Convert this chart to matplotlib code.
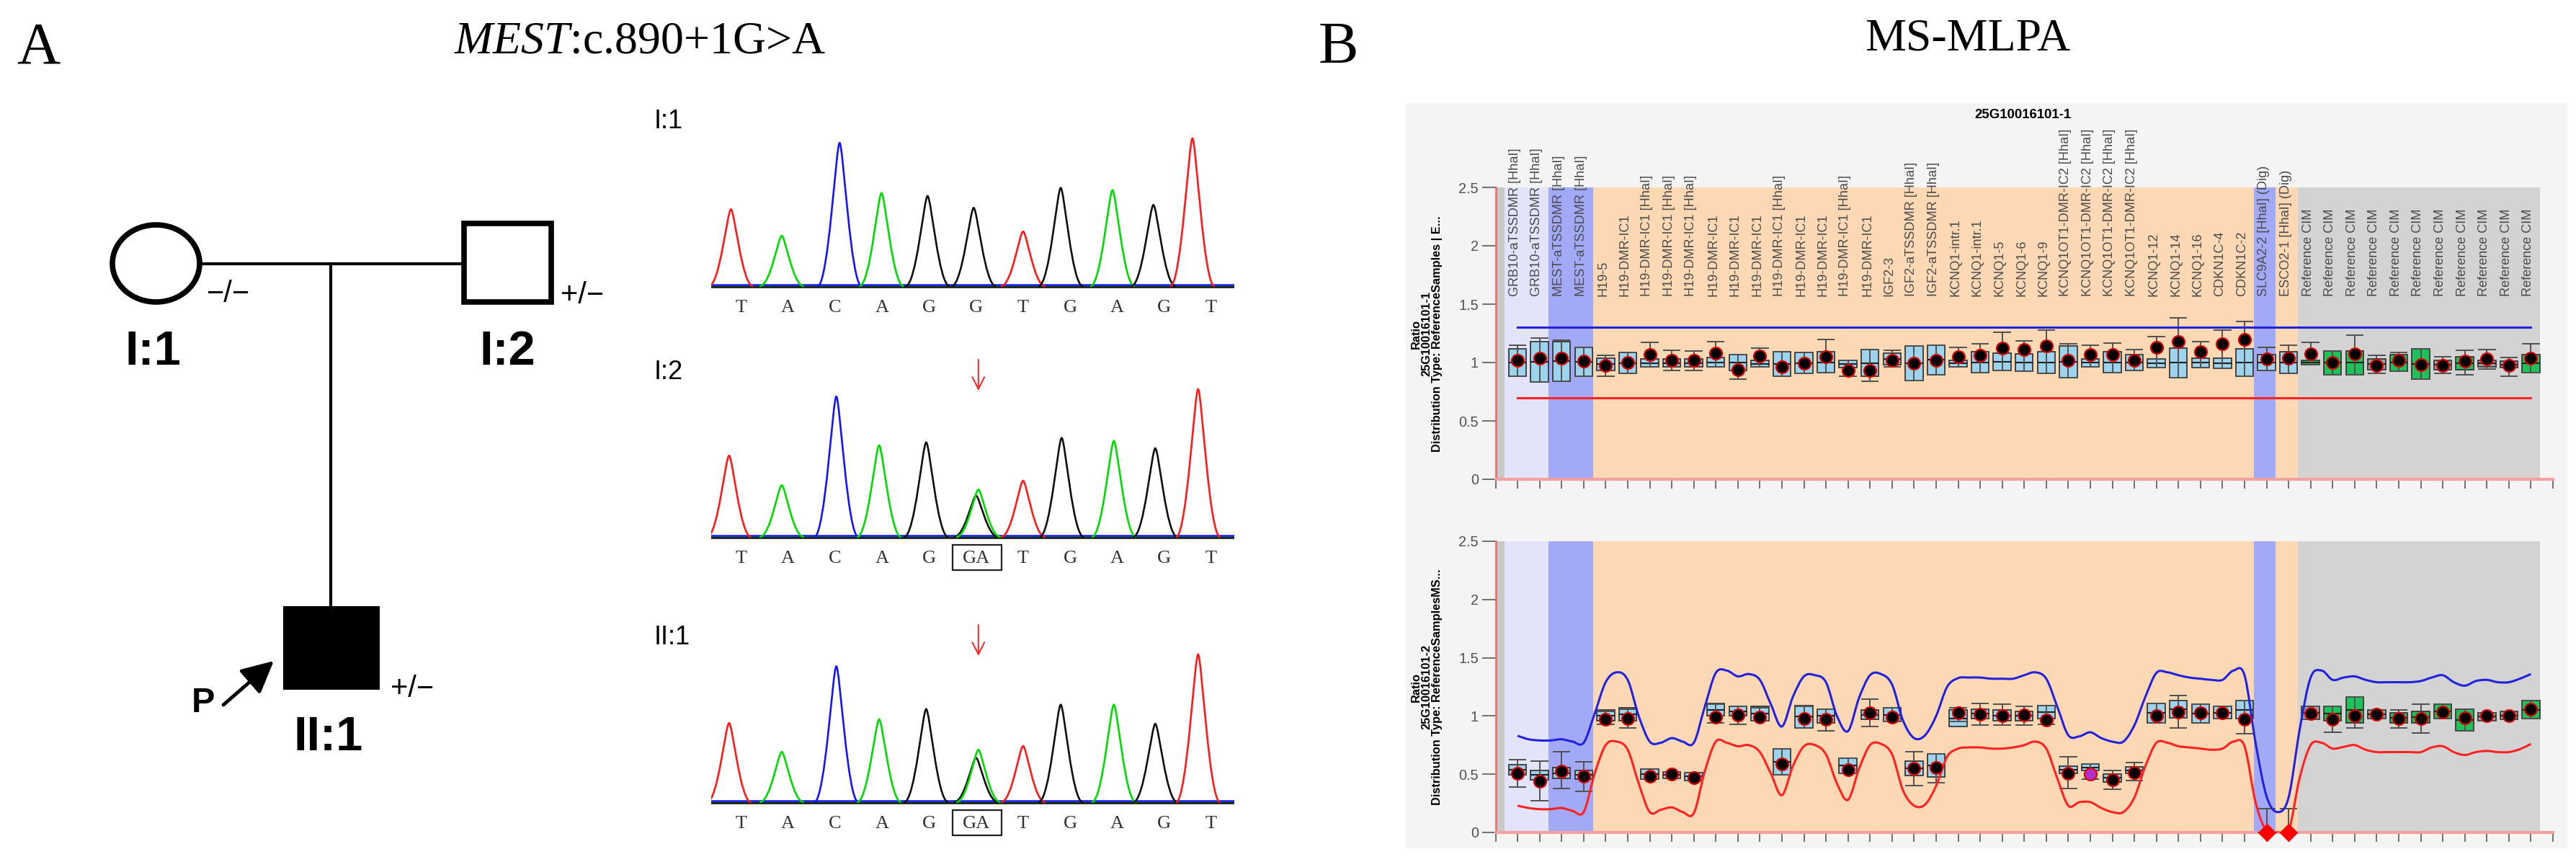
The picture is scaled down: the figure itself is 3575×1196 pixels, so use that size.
import numpy as np
import matplotlib
matplotlib.use('Agg')
import matplotlib.pyplot as plt
from matplotlib.patches import Ellipse, Rectangle, PathPatch
from matplotlib.path import Path
from matplotlib import font_manager

W, H = 3575, 1196

# ---------------- data: Sanger traces ----------------
chrom_labels = ['I:1', 'I:2', 'II:1']
base_calls = [
    ['T', 'A', 'C', 'A', 'G', 'G', 'T', 'G', 'A', 'G', 'T'],
    ['T', 'A', 'C', 'A', 'G', 'GA', 'T', 'G', 'A', 'G', 'T'],
    ['T', 'A', 'C', 'A', 'G', 'GA', 'T', 'G', 'A', 'G', 'T'],
]
peak_bases = [
    ['T', 'A', 'C', 'A', 'G', 'G', 'T', 'G', 'A', 'G', 'T'],
    ['T', 'A', 'C', 'A', 'G', 'G', 'A', 'T', 'G', 'A', 'G', 'T'],
    ['T', 'A', 'C', 'A', 'G', 'G', 'A', 'T', 'G', 'A', 'G', 'T'],
]
peak_pos = [
    [-0.21, 0.87, 2.10, 2.99, 3.97, 4.95, 6.0, 6.8, 7.9, 8.77, 9.6],
    [-0.25, 0.87, 2.03, 2.94, 3.94, 5.0, 5.05, 6.0, 6.82, 7.93, 8.81, 9.72],
    [-0.25, 0.87, 2.03, 2.94, 3.94, 5.0, 5.05, 6.0, 6.8, 7.93, 8.81, 9.72],
]
peak_height = [
    [0.52, 0.34, 0.97, 0.63, 0.61, 0.53, 0.37, 0.665, 0.65, 0.55, 1.0],
    [0.55, 0.35, 0.95, 0.62, 0.64, 0.28, 0.32, 0.38, 0.67, 0.65, 0.60, 1.0],
    [0.535, 0.34, 0.92, 0.56, 0.63, 0.30, 0.355, 0.38, 0.66, 0.66, 0.53, 1.0],
]
variant_index = 5

# ---------------- data: MS-MLPA ----------------
probe_labels = (
    ['GRB10-aTSSDMR [HhaI]'] * 2 + ['MEST-aTSSDMR [HhaI]'] * 2 + ['H19-5'] +
    ['H19-DMR-IC1', 'H19-DMR-IC1 [HhaI]', 'H19-DMR-IC1 [HhaI]', 'H19-DMR-IC1 [HhaI]',
     'H19-DMR-IC1', 'H19-DMR-IC1', 'H19-DMR-IC1', 'H19-DMR-IC1 [HhaI]',
     'H19-DMR-IC1', 'H19-DMR-IC1', 'H19-DMR-IC1 [HhaI]', 'H19-DMR-IC1'] +
    ['IGF2-3', 'IGF2-aTSSDMR [HhaI]', 'IGF2-aTSSDMR [HhaI]',
     'KCNQ1-intr.1', 'KCNQ1-intr.1', 'KCNQ1-5', 'KCNQ1-6', 'KCNQ1-9'] +
    ['KCNQ1OT1-DMR-IC2 [HhaI]'] * 4 +
    ['KCNQ1-12', 'KCNQ1-14', 'KCNQ1-16', 'CDKN1C-4', 'CDKN1C-2',
     'SLC9A2-2 [HhaI] (Dig)', 'ESCO2-1 [HhaI] (Dig)'] +
    ['Reference CIM'] * 11
)

# sample 1 (undigested)
top_ratio = [1.02, 1.035, 1.035, 1.01, 0.975, 1.00, 1.07, 1.02, 1.02, 1.08, 0.94, 1.055,
             0.965, 0.995, 1.05, 0.935, 0.935, 1.02, 0.995, 1.02, 1.05, 1.06, 1.125, 1.11,
             1.14, 1.02, 1.07, 1.07, 1.02, 1.13, 1.18, 1.095, 1.16, 1.20, 1.03, 1.04,
             1.075, 1.00, 1.075, 0.975, 1.02, 0.98, 0.975, 1.01, 1.03, 0.975, 1.04]
top_box_hi = [1.12, 1.18, 1.18, 1.13, 1.035, 1.085, 1.03, 1.03, 1.03, 1.045, 1.07, 1.02,
              1.095, 1.085, 1.09, 1.02, 1.11, 1.08, 1.14, 1.15, 1.02, 1.09, 1.08, 1.075,
              1.09, 1.14, 1.03, 1.09, 1.07, 1.03, 1.125, 1.04, 1.04, 1.12, 1.07, 1.09,
              1.02, 1.10, 1.10, 1.03, 1.07, 1.12, 1.02, 1.05, 1.02, 1.01, 1.07]
top_box_lo = [0.885, 0.835, 0.84, 0.885, 0.935, 0.905, 0.96, 0.96, 0.96, 0.96, 0.935, 0.96,
              0.88, 0.905, 0.915, 0.955, 0.88, 0.98, 0.845, 0.895, 0.965, 0.915, 0.935, 0.925,
              0.905, 0.87, 0.965, 0.915, 0.935, 0.955, 0.87, 0.955, 0.95, 0.885, 0.935, 0.905,
              0.98, 0.895, 0.895, 0.94, 0.925, 0.86, 0.94, 0.94, 0.965, 0.955, 0.915]
top_wsk_hi = [1.15, 1.21, 1.19, 1.13, 1.06, 1.085, 1.17, 1.105, 1.10, 1.18, 1.07, 1.125,
              1.095, 1.085, 1.20, 1.02, 1.11, 1.105, 1.14, 1.15, 1.13, 1.16, 1.26, 1.185,
              1.275, 1.16, 1.15, 1.165, 1.11, 1.225, 1.38, 1.18, 1.275, 1.35, 1.13, 1.15,
              1.17, 1.10, 1.235, 1.06, 1.085, 1.12, 1.05, 1.105, 1.11, 1.045, 1.16]
top_wsk_lo = [0.885, 0.835, 0.84, 0.885, 0.885, 0.905, 0.96, 0.935, 0.935, 0.96, 0.86, 0.96,
              0.88, 0.905, 0.915, 0.885, 0.84, 0.96, 0.845, 0.895, 0.965, 0.915, 0.935, 0.925,
              0.905, 0.87, 0.965, 0.915, 0.935, 0.955, 0.87, 0.955, 0.95, 0.885, 0.935, 0.905,
              0.98, 0.895, 0.895, 0.905, 0.925, 0.86, 0.905, 0.895, 0.945, 0.885, 0.915]
top_kinds = ['b'] * 36 + ['g', 'g', 'g', 'k', 'g', 'g', 'k', 'g', 'k', 'k', 'g']
top_upper = 1.3
top_lower = 0.7

# sample 2 (HhaI digested)
bot_ratio = [0.505, 0.44, 0.525, 0.48, 0.97, 0.98, 0.485, 0.50, 0.47, 0.99, 1.01, 0.99,
             0.59, 0.98, 0.97, 0.54, 1.025, 0.99, 0.55, 0.56, 1.025, 1.015, 1.005, 1.01,
             0.965, 0.51, 0.50, 0.45, 0.515, 1.005, 1.035, 1.025, 1.03, 0.97, 0.0, 0.0,
             1.02, 0.97, 1.005, 1.015, 0.975, 0.98, 1.035, 0.985, 1.00, 1.005, 1.06]
bot_box_hi = [0.58, 0.535, 0.555, 0.53, 1.05, 1.07, 0.545, 0.52, 0.515, 1.11, 1.08, 1.08,
              0.72, 1.09, 1.06, 0.64, 1.05, 1.07, 0.61, 0.675, 1.05, 1.06, 1.05, 1.04,
              1.09, 0.57, 0.585, 0.50, 0.565, 1.11, 1.13, 1.10, 1.08, 1.13, 0.0, 0.0,
              1.08, 1.08, 1.165, 1.05, 1.025, 1.04, 1.10, 1.06, 1.03, 1.04, 1.13]
bot_box_lo = [0.495, 0.45, 0.465, 0.455, 0.96, 0.96, 0.455, 0.465, 0.445, 1.0, 1.0, 0.96,
              0.495, 0.90, 0.94, 0.505, 0.97, 0.95, 0.49, 0.475, 0.91, 0.98, 0.96, 0.96,
              0.98, 0.505, 0.53, 0.435, 0.505, 0.94, 0.985, 0.94, 0.98, 0.98, 0.0, 0.0,
              0.97, 0.96, 0.94, 0.98, 0.94, 0.94, 0.98, 0.875, 0.96, 0.97, 0.975]
bot_wsk_hi = [0.625, 0.61, 0.69, 0.605, 1.04, 1.06, 0.545, 0.52, 0.515, 1.10, 1.085, 1.07,
              0.715, 1.085, 1.06, 0.64, 1.145, 1.07, 0.695, 0.675, 1.07, 1.11, 1.10, 1.085,
              1.09, 0.65, 0.585, 0.535, 0.60, 1.11, 1.175, 1.10, 1.08, 1.13, 0.205, 0.205,
              1.08, 1.08, 1.165, 1.05, 1.05, 1.10, 1.10, 1.06, 1.03, 1.04, 1.13]
bot_wsk_lo = [0.39, 0.27, 0.38, 0.355, 0.93, 0.90, 0.455, 0.465, 0.445, 0.94, 0.93, 0.96,
              0.495, 0.90, 0.875, 0.505, 0.91, 0.95, 0.40, 0.43, 0.95, 0.92, 0.92, 0.92,
              0.93, 0.38, 0.46, 0.37, 0.445, 0.94, 0.90, 0.94, 0.98, 0.845, 0.0, 0.0,
              0.97, 0.86, 0.90, 0.98, 0.90, 0.855, 0.98, 0.875, 0.96, 0.97, 0.975]
bot_kinds = ['b'] * 36 + ['k', 'g', 'g', 'k', 'g', 'g', 'g', 'g', 'k', 'k', 'g']
bot_flagged = [27]          # magenta marker
bot_failed = [35, 36]       # red diamonds on the axis

# bottom panel arbitration limits, read at every half probe from 1 to 47
limit_grid = np.arange(1, 47.5, 0.5)
bot_upper = [0.83, 0.80, 0.79, 0.79, 0.80, 0.78, 0.77, 1.02, 1.29, 1.375, 1.31, 1.00,
             0.78, 0.77, 0.81, 0.78, 0.77, 1.08, 1.37, 1.39, 1.34, 1.36, 1.31, 1.10,
             0.91, 1.165, 1.34, 1.35, 1.29, 1.00, 0.87, 1.155, 1.35, 1.36, 1.27, 0.96,
             0.81, 0.835, 1.00, 1.25, 1.325, 1.33, 1.33, 1.32, 1.32, 1.32, 1.35, 1.375,
             1.32, 1.08, 0.835, 0.825, 0.86, 0.81, 0.78, 0.78, 0.92, 1.165, 1.37, 1.375,
             1.35, 1.33, 1.32, 1.31, 1.31, 1.39, 1.35, 0.77, 0.31, 0.175, 0.30, 0.88,
             1.33, 1.39, 1.31, 1.33, 1.34, 1.31, 1.29, 1.29, 1.29, 1.29, 1.30, 1.33,
             1.35, 1.29, 1.26, 1.30, 1.31, 1.29, 1.29, 1.32, 1.36]
bot_lower = [0.23, 0.21, 0.20, 0.20, 0.21, 0.185, 0.175, 0.505, 0.75, 0.78, 0.71, 0.42,
             0.175, 0.195, 0.215, 0.175, 0.165, 0.525, 0.78, 0.77, 0.74, 0.75, 0.69, 0.505,
             0.32, 0.57, 0.74, 0.75, 0.67, 0.42, 0.28, 0.545, 0.75, 0.76, 0.67, 0.36,
             0.23, 0.24, 0.40, 0.65, 0.72, 0.73, 0.73, 0.72, 0.72, 0.73, 0.75, 0.78,
             0.72, 0.465, 0.23, 0.26, 0.26, 0.21, 0.175, 0.175, 0.30, 0.57, 0.77, 0.77,
             0.74, 0.73, 0.72, 0.71, 0.72, 0.78, 0.74, 0.26, 0.01, 0.0, 0.01, 0.465,
             0.75, 0.77, 0.72, 0.735, 0.75, 0.71, 0.69, 0.69, 0.69, 0.69, 0.69, 0.73,
             0.74, 0.69, 0.665, 0.69, 0.70, 0.69, 0.69, 0.715, 0.76]

# ---------------- style ----------------
names = {f.name for f in font_manager.fontManager.ttflist}
if 'Liberation Sans Narrow' in names:
    NARROW, nscale = 'Liberation Sans Narrow', 1.0
else:
    NARROW, nscale = 'Liberation Sans', 0.84
SERIF = 'Liberation Serif'
SANS = 'Liberation Sans'
plt.rcParams['mathtext.fontset'] = 'custom'
plt.rcParams['mathtext.rm'] = SERIF
plt.rcParams['mathtext.it'] = SERIF + ':italic'

trace_colors = {'T': '#ff1a1a', 'A': '#00dc00', 'C': '#1414ff', 'G': '#101010'}
box_colors = {'b': '#9dd3ec', 'g': '#1ec25a', 'k': '#9aa6a0'}

fig = plt.figure(figsize=(W / 100, H / 100), dpi=100)
canvas = fig.add_axes([0, 0, 1, 1], zorder=0)
canvas.set_xlim(0, W)
canvas.set_ylim(H, 0)
canvas.axis('off')


def px_axes(x0, y0, x1, y1):
    return fig.add_axes([x0 / W, 1 - y1 / H, (x1 - x0) / W, (y1 - y0) / H], zorder=2)


# ---------------- headings ----------------
canvas.text(23, 88, 'A', family=SERIF, fontsize=60, va='baseline', ha='left')
canvas.text(1830, 87, 'B', family=SERIF, fontsize=60, va='baseline', ha='left')
canvas.text(888, 73, r'$\mathit{MEST}$:c.890+1G>A', family=SERIF, fontsize=46,
            va='baseline', ha='center')
canvas.text(2731, 70, 'MS-MLPA', family=SERIF, fontsize=46, va='baseline', ha='center')

# ---------------- pedigree ----------------
canvas.add_patch(Ellipse((216.5, 365.5), 121, 107, fill=False, lw=5.5, ec='black'))
canvas.add_patch(Rectangle((644, 310), 121, 109, fill=False, lw=5.5, ec='black'))
canvas.plot([281, 640], [366, 366], color='black', lw=3)
canvas.plot([459, 459], [366, 841], color='black', lw=3)
canvas.add_patch(Rectangle((393, 841), 134, 116, fc='black', ec='none'))
canvas.text(287, 408, '\u2212/\u2212', family=SANS, fontsize=30, ha='left', va='center')
canvas.text(778, 410, '+/\u2212', family=SANS, fontsize=30, ha='left', va='center')
canvas.text(542, 956, '+/\u2212', family=SANS, fontsize=30, ha='left', va='center')
canvas.text(212, 489, 'I:1', family=SANS, fontsize=48, fontweight='bold', ha='center', va='center')
canvas.text(704, 489, 'I:2', family=SANS, fontsize=48, fontweight='bold', ha='center', va='center')
canvas.text(456, 1024, 'II:1', family=SANS, fontsize=48, fontweight='bold', ha='center', va='center')
canvas.text(282, 975, 'P', family=SANS, fontsize=35, fontweight='bold', ha='center', va='center')
canvas.annotate('', xy=(380, 917), xytext=(310, 978),
                arrowprops=dict(arrowstyle='-|>,head_length=0.9,head_width=0.45', lw=3.5,
                                color='black', mutation_scale=30, shrinkA=0, shrinkB=0))

# ---------------- chromatograms ----------------
baselines = [397, 745, 1113]
label_y = [169, 517, 885]
unit = 205.0
half_w = 0.47


def peak(x, h, w):
    verts = [(x - w, 0), (x - 0.5 * w, 0), (x - 0.16 * w, h), (x, h),
             (x + 0.16 * w, h), (x + 0.5 * w, 0), (x + w, 0)]
    codes = [Path.MOVETO] + [Path.CURVE4] * 6
    return Path(verts, codes)


for k in range(3):
    b = baselines[k]
    ax = px_axes(987, b - 1.05 * unit, 1713, b + 8)
    ax.set_xlim(-0.63, 10.49)
    ax.set_ylim(-8 / unit, 1.05)
    ax.axis('off')
    for col, off in zip(['T', 'A', 'C', 'G'], [0.0, 0.006, 0.011, -0.004]):
        ax.plot([-0.63, 10.49], [off, off], color=trace_colors[col], lw=1.8, zorder=1)
    for base, x, h in zip(peak_bases[k], peak_pos[k], peak_height[k]):
        ax.add_patch(PathPatch(peak(x, h, half_w), fill=False, ec=trace_colors[base],
                               lw=1.9, zorder=2))
    for j, call in enumerate(base_calls[k]):
        ax.text(j, -30 / unit, call, family=SERIF, fontsize=19, color='#333333',
                ha='center', va='center', clip_on=False)
    if k > 0:
        ax.add_patch(Rectangle((variant_index - 0.5, -0.224), 1.04, 0.172, fill=False,
                               ec='#222222', lw=1.6, clip_on=False))
        ax.annotate('', xy=(variant_index + 0.05, 0.99), xytext=(variant_index + 0.05, 1.2),
                    annotation_clip=False,
                    arrowprops=dict(arrowstyle='->,head_length=0.6,head_width=0.3', lw=1.4,
                                    color='#ff2020', mutation_scale=20, shrinkA=0, shrinkB=0))
    canvas.text(908, label_y[k], chrom_labels[k], family=SANS, fontsize=26,
                ha='left', va='center')

# ---------------- MS-MLPA ----------------
canvas.add_patch(Rectangle((1951, 143), 1612, 1034, fc='#f4f4f4', ec='none'))

band_spans = [(0.0, 0.42, '#c8c8c8'), (0.42, 2.42, '#e3e3fa'), (2.42, 4.42, '#a2a9f6'),
              (4.42, 34.42, '#fcd8b5'), (34.42, 35.42, '#a2a9f6'), (35.42, 36.42, '#fcd8b5'),
              (36.42, 47.42, '#d3d3d3')]
probes = np.arange(1, len(probe_labels) + 1)


def smooth_path(xs, ys):
    # Catmull-Rom through the read points, handed to matplotlib as cubic Bezier segments
    p = np.column_stack([xs, ys])
    verts, codes = [tuple(p[0])], [Path.MOVETO]
    for i in range(len(p) - 1):
        p0 = p[i - 1] if i > 0 else p[i]
        p3 = p[i + 2] if i + 2 < len(p) else p[i + 1]
        c1 = p[i] + (p[i + 1] - p0) / 6
        c2 = p[i + 1] - (p3 - p[i]) / 6
        verts += [tuple(c1), tuple(c2), tuple(p[i + 1])]
        codes += [Path.CURVE4] * 3
    return Path(verts, codes)


def mlpa_panel(y0, y1, ratio, bhi, blo, whi, wlo, kinds):
    ax = px_axes(2075.5, y0, 3543, y1)
    ax.set_facecolor('none')
    ax.set_xlim(0, 48)
    ax.set_ylim(0, 2.5)
    for a, c, col in band_spans:
        ax.axvspan(a, c, color=col, lw=0, zorder=0)
    bhi, blo = np.array(bhi), np.array(blo)
    ax.bar(probes, bhi - blo, bottom=blo, width=0.8,
           color=[box_colors[t] for t in kinds], edgecolor='#383838', linewidth=1.3, zorder=3)
    ax.hlines((bhi + blo) / 2, probes - 0.4, probes + 0.4, color='#202020', lw=1.5, zorder=4)
    ax.vlines(probes, wlo, whi, color='#505050', lw=1.4, zorder=4)
    ax.hlines(whi, probes - 0.4, probes + 0.4, color='#505050', lw=1.4, zorder=4)
    ax.hlines(wlo, probes - 0.4, probes + 0.4, color='#505050', lw=1.4, zorder=4)
    ax.set_xticks(np.arange(0, 49))
    ax.set_yticks([0, 0.5, 1, 1.5, 2, 2.5])
    ax.set_yticklabels(['0', '0.5', '1', '1.5', '2', '2.5'], family=NARROW)
    ax.tick_params(axis='x', length=9.5, width=1.4, color='#707070', labelbottom=False)
    ax.tick_params(axis='y', length=14, width=1.4, color='#707070', labelsize=17 * nscale,
                   labelcolor='#505050', pad=3)
    for s in ['top', 'right']:
        ax.spines[s].set_visible(False)
    ax.spines['left'].set_color('#ee7070')
    ax.spines['left'].set_linewidth(2)
    ax.spines['bottom'].set_color('#f3a0a0')
    ax.spines['bottom'].set_linewidth(3)
    return ax


top = mlpa_panel(260, 665, top_ratio, top_box_hi, top_box_lo, top_wsk_hi, top_wsk_lo, top_kinds)
top.plot([1, 47], [top_upper, top_upper], color='#2222dd', lw=2.2, zorder=5)
top.plot([1, 47], [top_lower, top_lower], color='#ff2222', lw=2.2, zorder=5)
top.scatter(probes, top_ratio, s=150, c='black', edgecolors='#dd0000', linewidths=1.5, zorder=6)
for i, lab in zip(probes, probe_labels):
    top.text(i - 0.12, 1.57, lab, rotation=90, ha='center', va='bottom', family=NARROW,
             fontsize=15.5 * nscale, color='#4a4a4a', clip_on=False, zorder=7)

bot = mlpa_panel(751, 1155, bot_ratio, bot_box_hi, bot_box_lo, bot_wsk_hi, bot_wsk_lo, bot_kinds)
bot.add_patch(PathPatch(smooth_path(limit_grid, bot_upper), fill=False, ec='#2222dd',
                        lw=2.2, zorder=5))
bot.add_patch(PathPatch(smooth_path(limit_grid, bot_lower), fill=False, ec='#ff2222',
                        lw=2.2, zorder=5))
normal = [i for i in probes if i not in bot_flagged + bot_failed]
bot.scatter(normal, [bot_ratio[i - 1] for i in normal], s=150, c='black',
            edgecolors='#dd0000', linewidths=1.5, zorder=6)
bot.scatter(bot_flagged, [bot_ratio[i - 1] for i in bot_flagged], s=150, c='#b030c8',
            edgecolors='#dd0000', linewidths=1.5, zorder=6)
bot.scatter(bot_failed, [bot_ratio[i - 1] for i in bot_failed], s=170, marker='D',
            c='#ff0000', linewidths=0, zorder=7, clip_on=False)

ylab_fs = 14 * nscale
fig.text(1980 / W, 1 - 463 / H,
         'Ratio\n25G10016101-1\nDistribution Type: ReferenceSamples | E...',
         rotation=90, ha='center', va='center', multialignment='center', family=NARROW,
         fontsize=ylab_fs, fontweight='bold', linespacing=0.95)
fig.text(1980 / W, 1 - 953 / H,
         'Ratio\n25G10016101-2\nDistribution Type: ReferenceSamplesMS...',
         rotation=90, ha='center', va='center', multialignment='center', family=NARROW,
         fontsize=ylab_fs, fontweight='bold', linespacing=0.95)
fig.text(2807 / W, 1 - 160 / H, '25G10016101-1', ha='center', va='center', family=NARROW,
         fontsize=16 * nscale, fontweight='bold')

fig.savefig('out.png', dpi=100, facecolor='white')
